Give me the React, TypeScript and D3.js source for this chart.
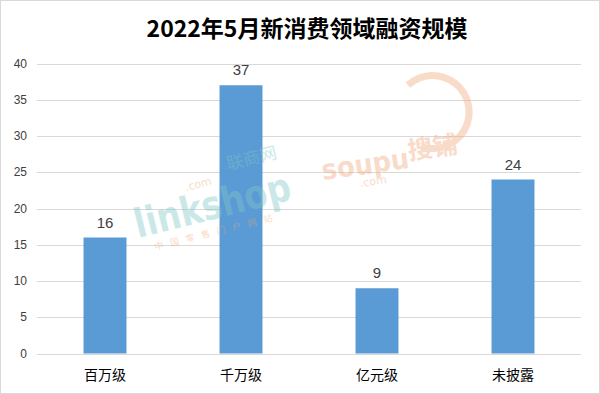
import React from "react";
import * as d3 from "d3";

const categories = ["百万级", "千万级", "亿元级", "未披露"];
const values = [16, 37, 9, 24];
const yTicks = [0, 5, 10, 15, 20, 25, 30, 35, 40];
const title = "2022年5月新消费领域融资规模";

const W = 600;
const H = 394;
const margin = { top: 63.5, right: 19, bottom: 40.5, left: 37 };
const cjk = "'Noto Sans CJK SC', 'Noto Sans', sans-serif";
const num = "'Liberation Sans', 'DejaVu Sans', sans-serif";

export default function App() {
	const innerW = W - margin.left - margin.right;
	const innerH = H - margin.top - margin.bottom;

	const x = d3
		.scaleBand()
		.domain(categories)
		.range([margin.left, margin.left + innerW])
		.paddingInner(0.684)
		.paddingOuter(0.342);

	const y = d3
		.scaleLinear()
		.domain([0, 40])
		.range([margin.top + innerH, margin.top]);

	// soupu ring
	const ring = d3.arc()({ innerRadius: 33, outerRadius: 40, startAngle: -0.6, endAngle: 3.6 }) ?? "";

	return (
		<svg
			width={W}
			height={H}
			style={{ position: "absolute", left: 0, top: 0, background: "#fff" }}
		>
			<rect x={0.5} y={0.5} width={W - 1} height={H - 1} fill="#fff" stroke="#d9d9d9" />
			<text
				x={307}
				y={37}
				textAnchor="middle"
				fontFamily={cjk}
				fontWeight="bold"
				fontSize={23}
				fill="#000"
			>
				{title}
			</text>

			{/* grid + y ticks */}
			{yTicks.map((t) => (
				<g key={t}>
					<line
						x1={margin.left}
						x2={margin.left + innerW}
						y1={Math.round(y(t)) + 0.5}
						y2={Math.round(y(t)) + 0.5}
						stroke="#d9d9d9"
					/>
					<text
						x={27}
						y={y(t)}
						dy="0.35em"
						textAnchor="end"
						fontFamily={num}
						fontSize={12}
						fill="#404040"
					>
						{t}
					</text>
				</g>
			))}

			{/* bars */}
			{categories.map((c, i) => (
				<g key={c}>
					<rect
						x={x(c)}
						y={y(values[i])}
						width={x.bandwidth()}
						height={y(0) - y(values[i])}
						fill="#5b9bd5"
					/>
					<text
						x={x(c)! + x.bandwidth() / 2}
						y={y(values[i]) - 10}
						textAnchor="middle"
						fontFamily={num}
						fontSize={15}
						fill="#404040"
					>
						{values[i]}
					</text>
					<text
						x={x(c)! + x.bandwidth() / 2}
						y={y(0) + 26}
						textAnchor="middle"
						fontFamily={cjk}
						fontSize={14}
						fill="#000"
					>
						{c}
					</text>
				</g>
			))}

			{/* watermarks */}
			<g transform="translate(138,238) rotate(-14)" opacity={0.4}>
				<text
					fontFamily="'DejaVu Sans', sans-serif"
					fontWeight="bold"
					fontSize={40}
					textLength={160}
					lengthAdjust="spacingAndGlyphs"
					fill="#7fc6c6"
				>
					linkshop
				</text>
				<text x={14} y={16} fontFamily={cjk} fontSize={9} fill="#f2a66a" letterSpacing={7}>
					中国零售门户网站
				</text>
				<text x={104} y={-44} fontFamily={cjk} fontSize={17} fill="#7fc6c6">
					联商网
				</text>
				<text x={58} y={-34} fontFamily="'DejaVu Sans', sans-serif" fontSize={11} fill="#f2a66a">
					.com
				</text>
			</g>
			<g transform="translate(323,180) rotate(-8)" opacity={0.45}>
				<text
					fontFamily="'DejaVu Sans', sans-serif"
					fontWeight="bold"
					fontSize={28}
					textLength={88}
					lengthAdjust="spacingAndGlyphs"
					fill="#f2b08a"
				>
					soupu
				</text>
				<text x={36} y={12} fontFamily="'DejaVu Sans', sans-serif" fontSize={11} fill="#f2b08a">
					.com
				</text>
				<text x={88} y={-8} fontFamily={cjk} fontWeight="bold" fontSize={25} fill="#f2b08a">
					搜铺
				</text>
				<path d={ring} transform="translate(118,-52)" fill="#f2b08a" />
			</g>
		</svg>
	);
}
